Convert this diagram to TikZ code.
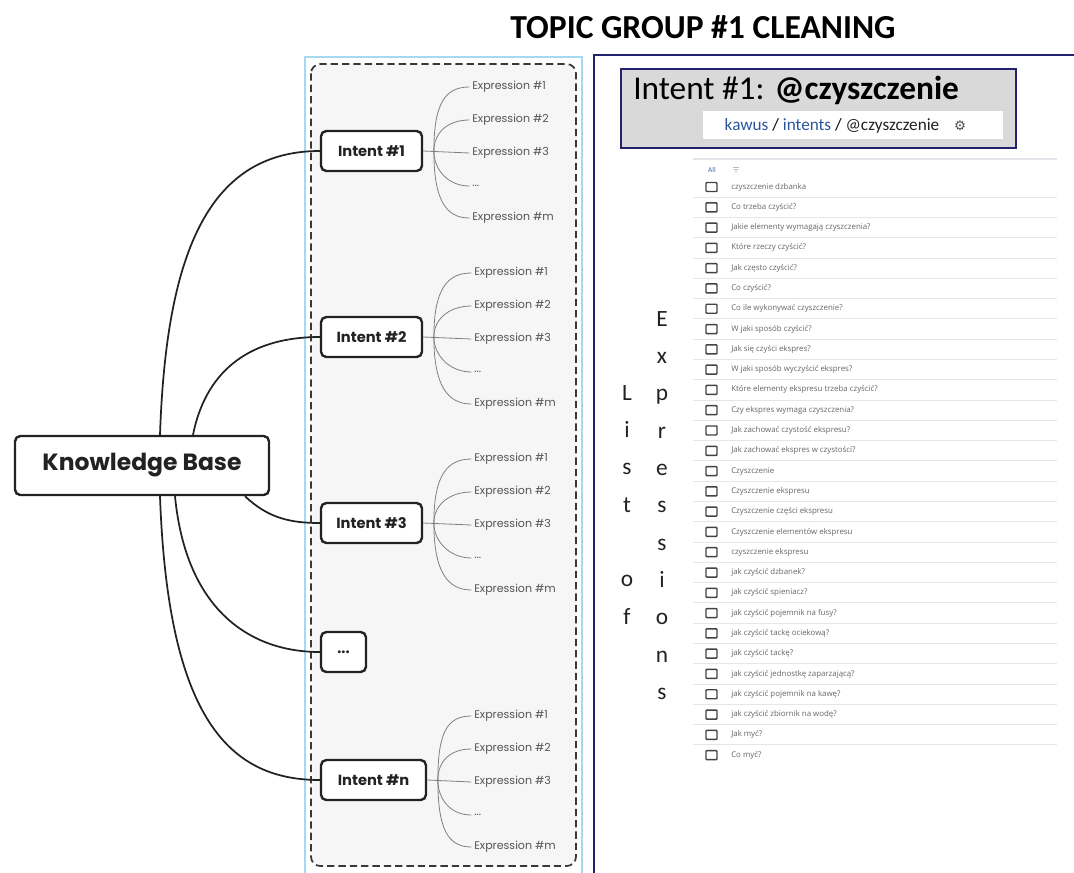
\documentclass[tikz,border=0pt]{standalone}
\usepackage{fontspec}
\setmainfont{Carlito}
\newfontfamily\pop{Poppins}
\newfontfamily\opn{Open Sans}
\newfontfamily\dejavu{DejaVu Sans}
\definecolor{navy}{HTML}{23236B}
\definecolor{ltblue}{HTML}{A6D8F2}
\definecolor{hdrgray}{HTML}{D9D9D9}
\definecolor{linkblue}{HTML}{2B579A}
\definecolor{listtext}{HTML}{666666}
\definecolor{sepgray}{HTML}{E3E6EA}
\definecolor{panel}{HTML}{F6F6F6}
\definecolor{exprgray}{HTML}{555555}
\definecolor{fangray}{HTML}{808080}
\definecolor{dark}{HTML}{222222}
\tikzset{
  kbbox/.style={draw=dark, line width=1.8pt, rounded corners=4pt, fill=white, minimum width=190.5pt, minimum height=44.25pt, inner sep=0pt, font=\pop\bfseries\fontsize{17.6}{19}\selectfont, text=dark},
  intbox/.style={draw=dark, line width=1.8pt, rounded corners=4pt, fill=white, minimum width=75.75pt, minimum height=30pt, inner sep=0pt, font=\pop\bfseries\fontsize{11}{12}\selectfont, text=dark},
  exprlbl/.style={anchor=west, inner sep=0pt, font=\pop\fontsize{8.3}{10}\selectfont, text=exprgray},
  link/.style={draw=dark, line width=1.3pt},
  fan/.style={draw=fangray, line width=0.6pt},
  rowtext/.style={anchor=west, inner sep=0pt, font=\opn\fontsize{5.9}{6.5}\selectfont, text=listtext},
  vletter/.style={inner sep=0pt, font=\fontsize{17.5}{20}\selectfont, text=dark},
  chk/.style={draw=dark!85, line width=1.1pt, rounded corners=0.6pt, minimum width=8.25pt, minimum height=6.75pt, inner sep=0pt}
}
\begin{document}
\begin{tikzpicture}[x=0.75pt,y=-0.75pt]
\useasboundingbox (0,0) rectangle (1074,872);
\fill[white] (0,0) rectangle (1074,872);

% title
\node[inner sep=0pt, font=\bfseries\fontsize{25.2}{27}\selectfont, text=black] (title) at (703,27) {TOPIC GROUP \#1 CLEANING};

% left panel frames
\draw[ltblue, line width=1.2pt] (305,874) -- (305,57) -- (582,57) -- (582,874);
\draw[dark!90, line width=1.3pt, dash pattern=on 5.5pt off 3pt, rounded corners=7pt, fill=panel] (311,64) rectangle (576,866);

% right frame
\draw[navy, line width=1.1pt] (594,874) -- (594,55) -- (1076,55);

% Knowledge base and intents
\node[kbbox] (kb) at (142,465.5) {Knowledge Base};
\node[intbox] (i1) at (371.5,151) {Intent \#1};
\node[intbox] (i2) at (371.5,337) {Intent \#2};
\node[intbox] (i3) at (371.5,523) {Intent \#3};
\node[intbox, minimum width=33.75pt] (idots) at (343.5,652) {...};
\node[intbox, minimum width=78.75pt] (in) at (373.5,780) {Intent \#n};

\coordinate (k1) at ([xshift=13.5pt]kb.north);
\coordinate (k2) at ([xshift=38.25pt]kb.north);
\coordinate (k3) at ([xshift=77.25pt]kb.south);
\coordinate (k4) at ([xshift=24.75pt]kb.south);
\coordinate (k5) at ([xshift=13.5pt]kb.south);

\draw[link] (k1) .. controls (166,260) and (205,151) .. (i1.west);
\draw[link] (k2) .. controls (205,375) and (245,337) .. (i2.west);
\draw[link] (k3) .. controls (268,518) and (290,523) .. (i3.west);
\draw[link] (k4) .. controls (186,610) and (250,652) .. (idots.west);
\draw[link] (k5) .. controls (168,720) and (230,780) .. (in.west);

% expression fans
\foreach \n/\yc/\xe in {i1/153/472, i2/339/474, i3/525/474, in/782/474} {
  \node[exprlbl] (\n e1) at (\xe,{\yc-66}) {Expression \#1};
  \node[exprlbl] (\n e2) at (\xe,{\yc-33}) {Expression \#2};
  \node[exprlbl] (\n e3) at (\xe,\yc) {Expression \#3};
  \node[exprlbl] (\n e4) at (\xe,{\yc+33}) {...};
  \node[exprlbl] (\n e5) at (\xe,{\yc+65}) {Expression \#m};
  \coordinate (\n j) at ([xshift=8pt]\n.east);
  \draw[fan] (\n.east) -- ([xshift=-2pt]\n e3.west);
  \draw[fan] (\n j) .. controls ([yshift=36pt]\n j) and ([xshift=-20pt]\n e1.west) .. ([xshift=-2pt]\n e1.west);
  \draw[fan] (\n j) .. controls ([yshift=14pt]\n j) and ([xshift=-18pt]\n e2.west) .. ([xshift=-2pt]\n e2.west);
  \draw[fan] (\n j) .. controls ([yshift=-14pt]\n j) and ([xshift=-18pt]\n e4.west) .. ([xshift=-2pt]\n e4.west);
  \draw[fan] (\n j) .. controls ([yshift=-36pt]\n j) and ([xshift=-20pt]\n e5.west) .. ([xshift=-2pt]\n e5.west);
}

% intent header box
\draw[navy, line width=1.1pt, fill=hdrgray] (621,69) rectangle (1016,148);
\node[anchor=west, inner sep=0pt, font=\fontsize{25}{27}\selectfont, text=black] (hdr) at (633,90) {Intent \#1: \textbf{@czyszczenie}};
\fill[white] (703,111) rectangle (1003,139);
\node[inner sep=0pt, font=\fontsize{12.9}{14}\selectfont] (path) at (832,126) {\textcolor{linkblue}{kawus} / \textcolor{linkblue}{intents} / \textcolor{dark}{@czyszczenie}};
\node[inner sep=0pt, font=\dejavu\fontsize{10}{11}\selectfont, text=dark!80] (gear) at (960,126) {⚙};

% list
\draw[sepgray, line width=0.8pt] (693,159) -- (1057,159);
\node[inner sep=0pt, font=\opn\fontsize{5}{6}\selectfont, text=linkblue] (all) at (712,170) {All};
\draw[linkblue!40, line width=0.5pt] (733,167) -- (739,167) (734,169) -- (738,169) (735,171) -- (737,171);
\foreach \t [count=\i] in {czyszczenie dzbanka, Co trzeba czyścić?, Jakie elementy wymagają czyszczenia?, Które rzeczy czyścić?, Jak często czyścić?, Co czyścić?, Co ile wykonywać czyszczenie?, W jaki sposób czyścić?, Jak się czyści ekspres?, W jaki sposób wyczyścić ekspres?, Które elementy ekspresu trzeba czyścić?, Czy ekspres wymaga czyszczenia?, Jak zachować czystość ekspresu?, Jak zachować ekspres w czystości?, Czyszczenie, Czyszczenie ekspresu, Czyszczenie części ekspresu, Czyszczenie elementów ekspresu, czyszczenie ekspresu, jak czyścić dzbanek?, jak czyścić spieniacz?, jak czyścić pojemnik na fusy?, jak czyścić tackę ociekową?, jak czyścić tackę?, jak czyścić jednostkę zaparzającą?, jak czyścić pojemnik na kawę?, jak czyścić zbiornik na wodę?, Jak myć?, Co myć?} {
  \pgfmathsetmacro{\yy}{187+(\i-1)*20.29}
  \node[chk] (cb\i) at (711.5,\yy) {};
  \node[rowtext] (row\i) at (731,\yy) {\t};
  \ifnum\i<29
    \draw[sepgray, line width=0.7pt] (693,{\yy+10.1}) -- (1057,{\yy+10.1});
  \fi
}

% vertical text
\foreach \c [count=\k] in {L,i,s,t,,o,f} {
  \node[vletter] (va\k) at (627,{395+(\k-1)*37.3}) {\strut\c};
}
\foreach \c [count=\k] in {E,x,p,r,e,s,s,i,o,n,s} {
  \node[vletter] (vb\k) at (662,{321+(\k-1)*37.3}) {\strut\c};
}
\end{tikzpicture}
\end{document}
